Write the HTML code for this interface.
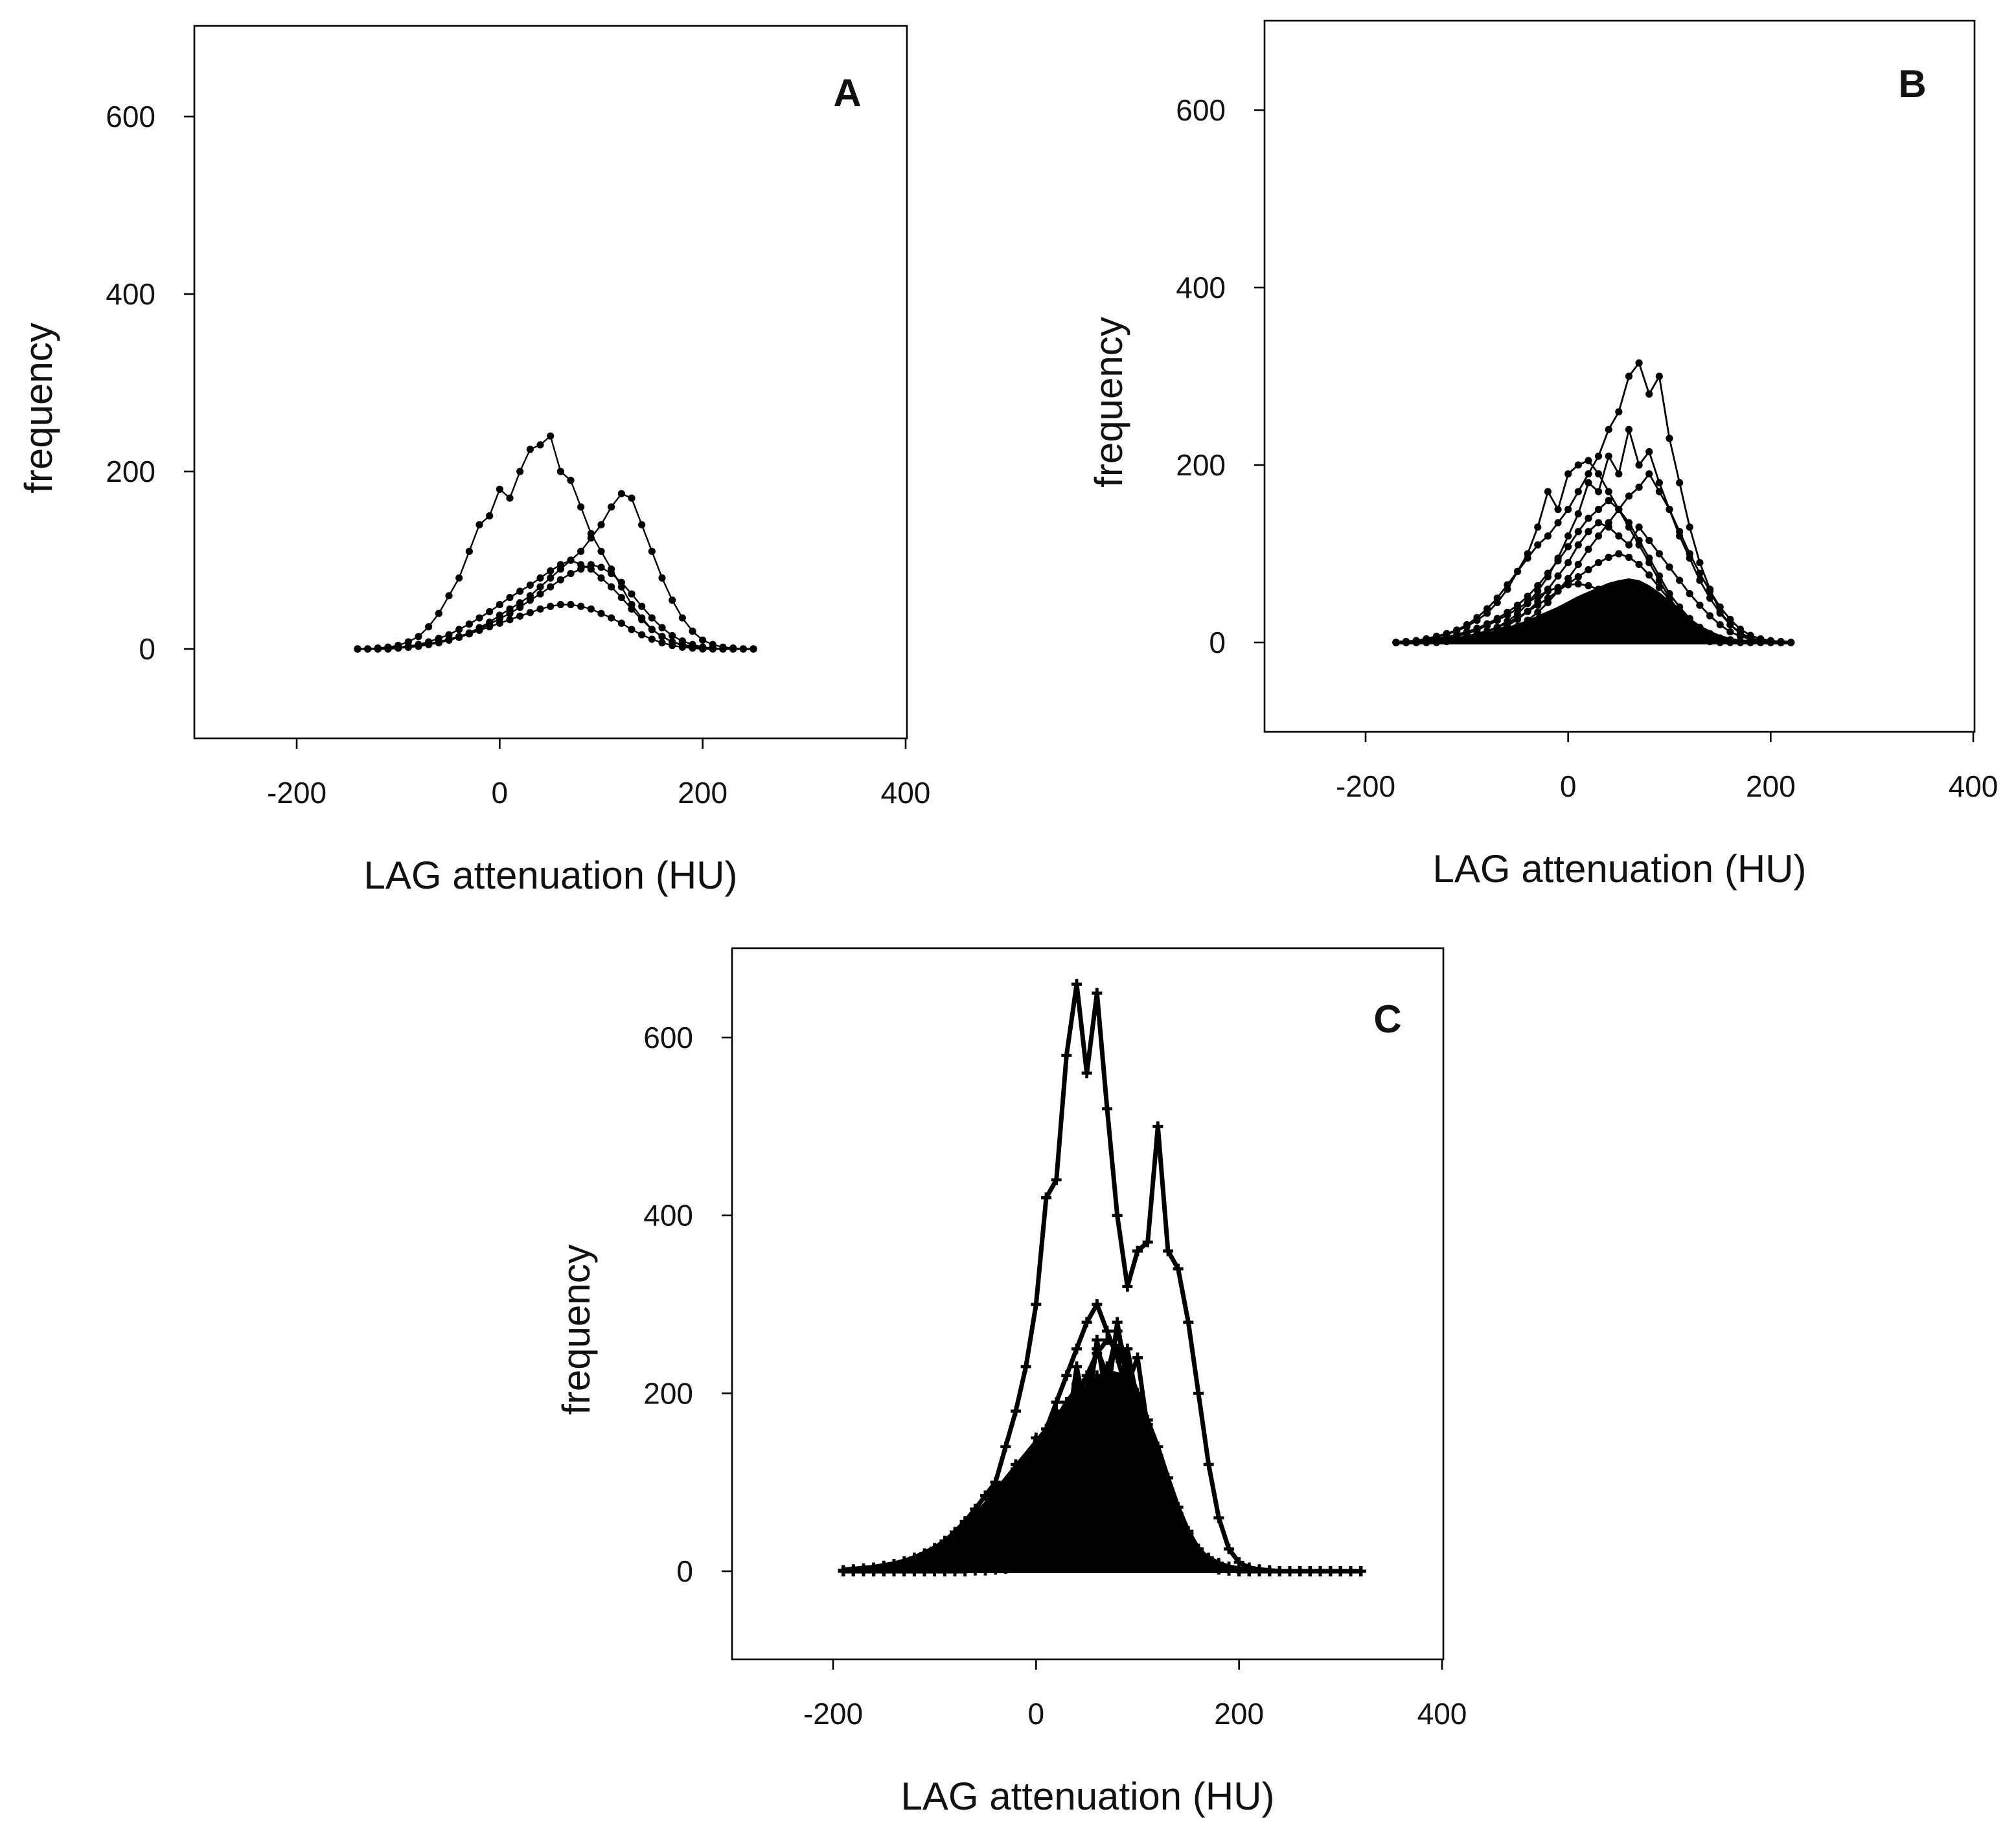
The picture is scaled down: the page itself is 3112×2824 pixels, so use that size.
<!DOCTYPE html>
<html><head><meta charset="utf-8">
<style>
html,body{margin:0;padding:0;background:#fff;}
svg{display:block;}
text{font-family:"Liberation Sans",Arial,sans-serif;fill:#111;}
</style></head>
<body>
<svg id="fig" width="3112" height="2824" viewBox="0 0 1556 1412" xmlns="http://www.w3.org/2000/svg">
<rect x="0" y="0" width="1556" height="1412" fill="#fff"/>
</svg>
<script>
// Panel A data (x start -140, step 10)
const aX0 = -140;
const aS1 = [0,0,1,2,4,8,14,25,40,60,80,110,140,150,180,170,200,225,230,240,200,190,160,130,110,90,70,50,35,22,14,8,5,3,2,1,0,0,0,0];
const aS2 = [0,0,0,0,1,2,3,5,7,10,14,18,24,30,38,45,52,60,70,80,90,100,110,125,140,160,175,170,140,110,80,55,35,20,10,5,2,1,0,0];
const aS3 = [0,0,0,1,2,3,5,8,12,16,22,28,35,42,50,58,65,72,80,88,95,100,95,90,80,70,58,45,33,22,14,8,4,2,1,0,0,0,0,0];
const aS4 = [0,0,0,1,2,3,4,6,8,11,14,17,21,25,29,33,37,41,45,48,50,50,48,45,40,35,29,22,16,11,7,4,2,1,0,0,0,0,0,0];
const aS5 = [0,0,0,0,1,2,3,5,7,10,13,17,22,28,34,40,47,55,62,70,78,85,90,95,92,85,75,62,48,35,24,15,9,5,2,1,0,0,0,0];
// Panel B data (x start -170, step 10)
const bX0 = -170;
const bS1 = [0,1,2,4,7,10,14,20,28,38,50,65,80,95,110,120,135,150,170,190,210,240,260,300,315,280,300,230,180,130,90,60,35,20,10,5,2,1,0,0];
const bS2 = [0,1,2,4,6,9,13,18,25,33,45,60,80,100,130,170,150,190,200,205,190,170,150,130,110,90,70,50,35,22,13,7,4,2,1,0,0,0,0,0];
const bS3 = [0,0,1,2,4,6,9,12,16,21,27,34,42,52,64,78,92,108,125,140,150,160,150,135,115,95,75,55,40,27,17,10,5,3,1,0,0,0,0,0];
const bS4 = [0,0,0,1,2,3,5,7,10,13,17,22,28,35,42,50,58,66,74,82,90,96,100,96,88,76,62,48,35,24,15,9,5,2,1,0,0,0,0,0];
const bS5 = [0,0,1,2,3,5,7,10,14,19,25,31,38,45,52,58,62,65,66,64,60,55,48,40,32,25,18,12,8,5,3,1,0,0,0,0,0,0,0,0];
const bS6 = [0,0,0,1,1,2,3,4,6,8,10,13,16,19,23,27,31,35,38,40,42,42,40,37,33,28,23,18,13,9,6,3,2,1,0,0,0,0,0,0];
const bS7 = [0,0,0,0,1,2,3,5,8,12,17,24,32,44,58,74,95,120,145,180,170,210,190,240,200,215,180,150,120,95,70,50,33,20,11,5,2,1,0,0];
const bS8 = [0,0,0,0,0,1,2,3,4,6,9,13,18,25,34,45,58,72,88,105,120,135,150,165,175,190,170,150,125,100,78,58,40,26,15,8,4,2,1,0];
const bS9 = [0,0,0,1,1,2,3,5,7,10,14,19,26,35,46,60,75,90,110,125,135,130,120,110,130,115,100,85,70,55,42,30,20,12,7,4,2,1,0,0];
// Panel B dense-mass envelope (x start -170, step 10)
const bEnv = [0,0,1,1,2,3,4,5,7,9,12,15,19,23,28,33,38,44,50,55,60,65,68,70,68,62,54,44,34,25,17,11,6,3,1,1,0,0,0,0];
// Panel C data (x start -190, step 10)
const cX0 = -190;
const cS1 = [0,0,0,0,1,2,3,5,8,12,18,25,35,50,70,100,140,180,230,300,420,440,580,660,560,650,520,400,320,360,370,500,360,340,280,200,120,60,25,10,4,2,1,0,0,0,0,0,0,0,0,0];
const cS2 = [0,0,0,1,1,2,3,5,7,10,14,19,25,33,43,55,70,90,110,135,160,190,220,250,280,300,270,240,200,160,120,85,55,33,18,9,4,2,1,0,0,0,0,0,0,0,0,0,0,0,0,0];
const cS3 = [0,0,1,1,2,3,5,7,10,13,17,22,28,35,45,57,72,90,110,130,150,170,190,205,215,220,210,190,165,135,105,78,55,36,22,12,6,3,1,0,0,0,0,0,0,0,0,0,0,0,0,0];
const cS4 = [0,1,1,2,3,4,6,8,11,15,20,26,33,42,52,64,78,93,108,122,135,147,158,166,172,175,172,165,152,135,115,92,70,50,34,21,12,6,3,1,0,0,0,0,0,0,0,0,0,0,0,0];
const cS5 = [0,0,0,0,1,1,2,3,4,6,8,11,15,20,27,36,48,62,80,100,122,145,170,195,220,245,260,250,225,190,150,110,75,46,26,13,6,3,1,0,0,0,0,0,0,0,0,0,0,0,0,0];
const cS6 = [1,1,2,3,4,6,8,11,14,18,23,29,36,44,53,62,72,82,92,100,108,114,118,120,119,115,108,98,86,72,58,44,32,22,14,8,5,3,1,1,0,0,0,0,0,0,0,0,0,0,0,0];
const cS7 = [0,0,0,0,0,1,1,2,3,4,6,8,11,15,20,27,36,46,58,72,88,105,122,140,158,175,190,200,200,190,170,140,105,72,45,25,12,6,3,1,0,0,0,0,0,0,0,0,0,0,0,0];
const cS8 = [0,0,0,0,0,0,0,0,1,1,2,3,4,6,8,11,15,20,26,33,41,50,60,70,80,88,95,98,97,92,84,73,60,47,35,24,15,9,5,3,2,1,1,0,0,0,0,0,0,0,0,0];
const cS9 = [0,0,0,0,0,0,0,0,0,0,0,0,0,1,1,2,3,4,6,8,11,14,18,22,26,30,33,35,35,33,30,26,21,16,12,8,5,3,2,1,1,0,0,0,0,0,0,0,0,0,0,0];
const cS10 = [0,0,1,2,3,5,8,12,17,24,32,42,55,70,60,90,80,120,100,150,130,180,150,230,170,260,190,280,210,240,160,130,90,60,38,22,12,6,3,1,0,0,0,0,0,0,0,0,0,0,0,0];
const cS11 = [0,0,0,1,2,3,4,6,9,13,18,24,31,40,50,45,70,60,95,80,130,100,160,120,200,140,230,170,250,190,150,110,75,48,28,15,8,4,2,1,0,0,0,0,0,0,0,0,0,0,0,0];
const cS12 = [1,2,3,4,6,8,11,15,20,26,34,44,56,70,85,100,90,115,105,130,110,150,120,170,140,160,120,140,100,90,70,55,40,28,18,11,6,3,2,1,0,0,0,0,0,0,0,0,0,0,0,0];
const cS13 = [0,0,0,0,1,1,2,3,5,7,10,14,19,26,34,44,56,70,86,104,124,146,170,210,190,250,220,270,230,200,165,130,95,65,42,25,14,7,3,1,0,0,0,0,0,0,0,0,0,0,0,0];
// Panel C dense-mass envelope (x start -190, step 10)
const cEnv = [2,3,4,5,7,9,12,16,21,27,34,42,52,64,76,90,104,118,132,146,160,172,184,196,208,218,224,222,210,190,160,125,90,60,36,20,10,5,3,2,1,1,1,0,0,0,0,0,0,0,0,0];
const xTicks = [-200,0,200,400];
const yTicks = [0,200,400,600];

const NS = "http://www.w3.org/2000/svg";
const svg = document.getElementById('fig');
function mk(tag, attrs, parent){const e=document.createElementNS(NS,tag);for(const k in attrs)e.setAttribute(k,attrs[k]);(parent||svg).appendChild(e);return e;}

function panel(p){
  const g = mk('g',{});
  
  
  const sx = v => p.x0 + (v - (-200)) * (p.x400 - p.x0) / 600;
  const sy = v => p.y0 - v * (p.y0 - p.y600) / 600;
  const box = mk('rect',{x:p.L,y:p.T,width:p.R-p.L,height:p.B-p.T,fill:'none',stroke:'#000','stroke-width':1.3},g);
  
  
  xTicks.forEach(t=>{
    mk('line',{x1:sx(t),x2:sx(t),y1:p.B,y2:p.B+8,stroke:'#000','stroke-width':1.3},g);
    const tx = mk('text',{x:sx(t),y:p.B+50,'font-size':23,'text-anchor':'middle'},g);
    tx.textContent=t;
    
    
  });
  yTicks.forEach(t=>{
    mk('line',{x1:p.L-8,x2:p.L,y1:sy(t),y2:sy(t),stroke:'#000','stroke-width':1.3},g);
    const tx = mk('text',{x:p.L-30,y:sy(t)+8,'font-size':23,'text-anchor':'end'},g);
    tx.textContent=t;
    
    
  });
  const xl = mk('text',{x:(p.L+p.R)/2,y:p.B+116,'font-size':30,'text-anchor':'middle'},g);
  xl.textContent='LAG attenuation (HU)';
  
  
  const yl = mk('text',{x:0,y:0,'font-size':30,'text-anchor':'middle',transform:`translate(${p.L-110},${(p.T+p.B)/2+20}) rotate(-90)`},g);
  yl.textContent='frequency';
  
  
  const lt = mk('text',{x:p.lx,y:p.ly,'font-size':30,'font-weight':'bold','text-anchor':'middle'},g);
  lt.textContent=p.id;
  
  
  if(p.env){
    const ep = p.env.map((v,j)=>[sx(p.start+10*j), sy(v)]);
    ep.push([sx(p.start+10*(p.env.length-1)), sy(0)]);
    ep.push([sx(p.start), sy(0)]);
    const poly = mk('polygon',{points:ep.map(q=>q.join(',')).join(' '),fill:'#000',stroke:'#000','stroke-width':3},g);
    
    
  }
  p.series.forEach((s,i)=>{
    const pts = s.map((v,j)=>[sx(p.start+10*j), sy(v)]);
    const line = mk('polyline',{points:pts.map(q=>q.join(',')).join(' '),fill:'none',stroke:'#000','stroke-width':p.lw},g);
    
    
    pts.forEach(q=>{
      if(p.marker==='dot'){
        const c = mk('circle',{cx:q[0],cy:q[1],r:2.8,fill:'#000'},g);
        
        
      } else {
        const c = mk('path',{d:`M${q[0]-4},${q[1]}h8M${q[0]},${q[1]-4}v8`,stroke:'#000','stroke-width':2.4},g);
        
        
      }
    });
  });
}
panel({id:'A',L:150,R:700,T:20,B:570,x0:229,x400:699,y0:501,y600:90,lx:654,ly:82,start:aX0,marker:'dot',lw:1.2,series:[aS1,aS2,aS3,aS4,aS5]});
panel({id:'B',L:976,R:1524,T:16,B:565,x0:1054,x400:1523,y0:496,y600:85,lx:1476,ly:75,start:bX0,marker:'dot',lw:1.4,env:bEnv,series:[bS1,bS2,bS3,bS4,bS5,bS6,bS7,bS8,bS9]});
panel({id:'C',L:565,R:1114,T:732,B:1281,x0:643,x400:1113,y0:1213,y600:801,lx:1071,ly:797,start:cX0,marker:'plus',lw:3.5,env:cEnv,series:[cS1,cS2,cS3,cS4,cS5,cS6,cS7,cS8,cS9,cS10,cS11,cS12,cS13]});
</script>
</body></html>
